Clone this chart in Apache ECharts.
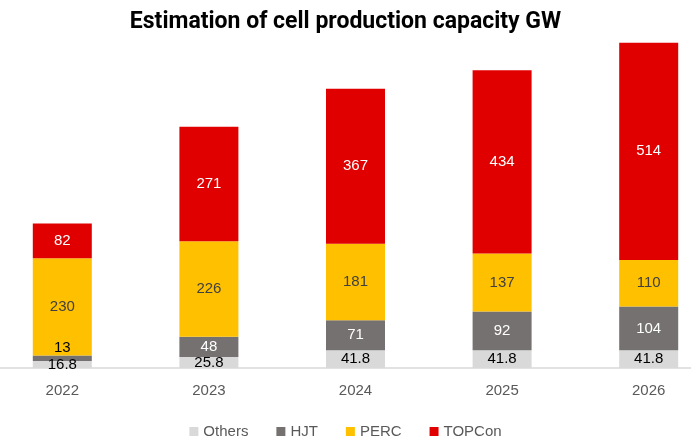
<!DOCTYPE html>
<html>
<head>
<meta charset="utf-8">
<script src="https://cdn.jsdelivr.net/npm/echarts@6/dist/echarts.min.js"></script>
<style>
  html, body { margin: 0; padding: 0; background: #fff; }
  #main { width: 691px; height: 439px; }
</style>
</head>
<body>
<div id="main"></div>
<script>
const years = ['2022', '2023', '2024', '2025', '2026']
const others = [16.8, 25.8, 41.8, 41.8, 41.8]
const hjt = [13, 48, 71, 92, 104]
const perc = [230, 226, 181, 137, 110]
const topcon = [82, 271, 367, 434, 514]

const chart = echarts.init(document.getElementById('main'))

// 小段的标签放到柱子上方
function hjtData() {
  return hjt.map((v, i) => {
    if (v < 20) {
      return { value: v, label: { position: 'top', color: '#000', distance: 0 } }
    }
    return v
  })
}

const labelFont = { fontFamily: 'Arial, Liberation Sans, sans-serif', fontSize: 15 }

const option = {
  animation: false,
  title: {
    text: 'Estimation of cell production capacity GW',
    left: 'center',
    top: 6,
    textStyle: {
      fontFamily: 'Roboto, Inter, sans-serif',
      fontWeight: 'bold',
      fontSize: 23,
      color: '#000'
    }
  },
  legend: {
    bottom: -5,
    left: 'center',
    itemWidth: 9,
    itemHeight: 9,
    itemGap: 28,
    icon: 'rect',
    textStyle: { ...labelFont, color: '#595959' },
    data: ['Others', 'HJT', 'PERC', 'TOPCon']
  },
  grid: {
    left: -11,
    right: -31,
    top: 30,
    bottom: 71,
    outerBoundsMode: 'none'
  },
  xAxis: {
    type: 'category',
    data: years,
    axisTick: { show: false },
    axisLine: { lineStyle: { color: '#d9d9d9', width: 1.5 } },
    axisLabel: { ...labelFont, color: '#595959', margin: 15 }
  },
  yAxis: {
    type: 'value',
    min: 0,
    max: 800,
    show: false,
    splitLine: { show: false }
  },
  series: [
    {
      name: 'Others',
      type: 'bar',
      stack: 'cap',
      barWidth: 59,
      data: others,
      itemStyle: { color: '#d9d9d9' },
      label: { show: true, position: 'inside', ...labelFont, color: '#000' }
    },
    {
      name: 'HJT',
      type: 'bar',
      stack: 'cap',
      data: hjtData(),
      itemStyle: { color: '#767171' },
      label: { show: true, position: 'inside', ...labelFont, color: '#fff' }
    },
    {
      name: 'PERC',
      type: 'bar',
      stack: 'cap',
      data: perc,
      itemStyle: { color: '#ffc000' },
      label: { show: true, position: 'inside', ...labelFont, color: '#404040' }
    },
    {
      name: 'TOPCon',
      type: 'bar',
      stack: 'cap',
      data: topcon,
      itemStyle: { color: '#e00000' },
      label: { show: true, position: 'inside', ...labelFont, color: '#fff' }
    }
  ]
}

chart.setOption(option)
</script>
</body>
</html>
